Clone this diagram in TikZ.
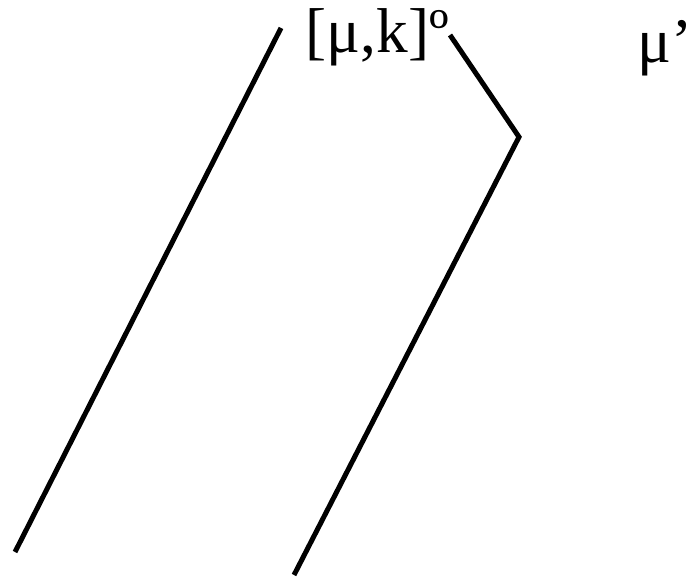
\documentclass[tikz,border=0pt]{standalone}
\usepackage{fontspec}
\setmainfont{Liberation Serif}
\usepackage{tikz}
\usetikzlibrary{positioning}
\tikzset{lbl/.style={inner sep=0pt, anchor=base west, text=black, font=\fontsize{18}{22}\selectfont},
       strand/.style={draw=black, line width=0.05cm, line cap=butt, line join=miter}}

\begin{document}
\begin{tikzpicture}[x=0.01cm, y=-0.01cm]
\useasboundingbox (0,0) rectangle (692,580);
\node [lbl] (mk) at (305,53) {[μ,k]º};
\node [lbl] (mup) at (637,63) {μ’};
\coordinate (la) at (281,28);
\coordinate (lb) at (15,552);
\coordinate (ra) at (450,35);
\coordinate (rc) at (519,137);
\coordinate (rb) at (294,575);
\draw [strand] (la) -- (lb);
\draw [strand] (ra) -- (rc) -- (rb);
\end{tikzpicture}
\end{document}
